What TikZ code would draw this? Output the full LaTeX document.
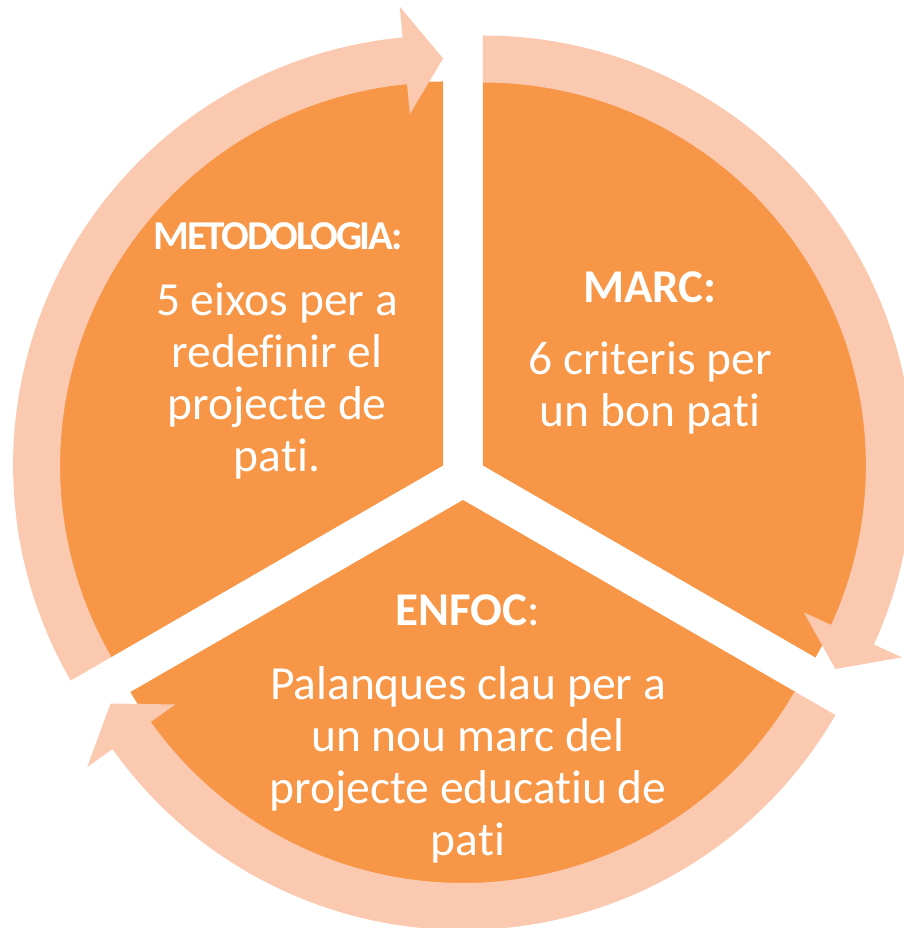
\documentclass[tikz,border=0pt]{standalone}
\usepackage{fontspec}
\setmainfont{Carlito}[Ligatures=NoCommon]
\newfontfamily\tightfont{Carlito}[LetterSpace=-5.5,Ligatures=NoCommon]
\usepackage{tikz}
\definecolor{pieorange}{HTML}{F79646}
\definecolor{ringpeach}{HTML}{FAC9B0}

\begin{document}
\begin{tikzpicture}[x=1pt,y=1pt,
  wedge/.style={fill=pieorange},
  ringarrow/.style={fill=ringpeach},
  title/.style={text=white,font=\bfseries\fontsize{47}{54}\selectfont,anchor=base,inner sep=0pt},
  body/.style={text=white,font=\fontsize{47.5}{52}\selectfont,align=center,anchor=base,inner sep=0pt}]
\useasboundingbox (-463,-451) rectangle (440,477);
% three wedges, pushed apart along their middle line
\foreach \s in {90,-30,210} {
   \begin{scope}[shift={(\s-60:23)}]
   \fill[wedge] (0,0) -- (\s:384) arc[start angle=\s,end angle=\s-120,radius=384] -- cycle;
   \end{scope}
}
% curved arrows round each wedge
\foreach \s in {90,-30,210} {
   \begin{scope}[shift={(\s-60:23)}]
   \fill[ringarrow] (\s:430) arc[start angle=\s,end angle=\s-114.6,radius=430]
      -- (\s-114.6:461) -- (\s-120:407) -- (\s-114.6:353) -- (\s-114.6:383)
      arc[start angle=\s-114.6,end angle=\s,radius=383] -- cycle;
   \end{scope}
}
% base of a text of several lines = its last line
\node[title,font=\tightfont\bfseries\fontsize{41}{48}\selectfont] (methtitle) at (-185,227) {METODOLOGIA:};
\node[body] (methbody) at (-186,5) {5 eixos per a\\redefinir el\\projecte de\\pati.};
\node[title] (marctitle) at (187,174) {MARC:};
\node[body] (marcbody) at (187,50) {6 criteris per\\un bon pati};
\node[title] (enfoctitle) at (5,-148) {ENFOC\textmd{:}};
\node[body] (enfocbody) at (5,-378) {Palanques clau per a\\un nou marc del\\projecte educatiu de\\pati};
\end{tikzpicture}
\end{document}
